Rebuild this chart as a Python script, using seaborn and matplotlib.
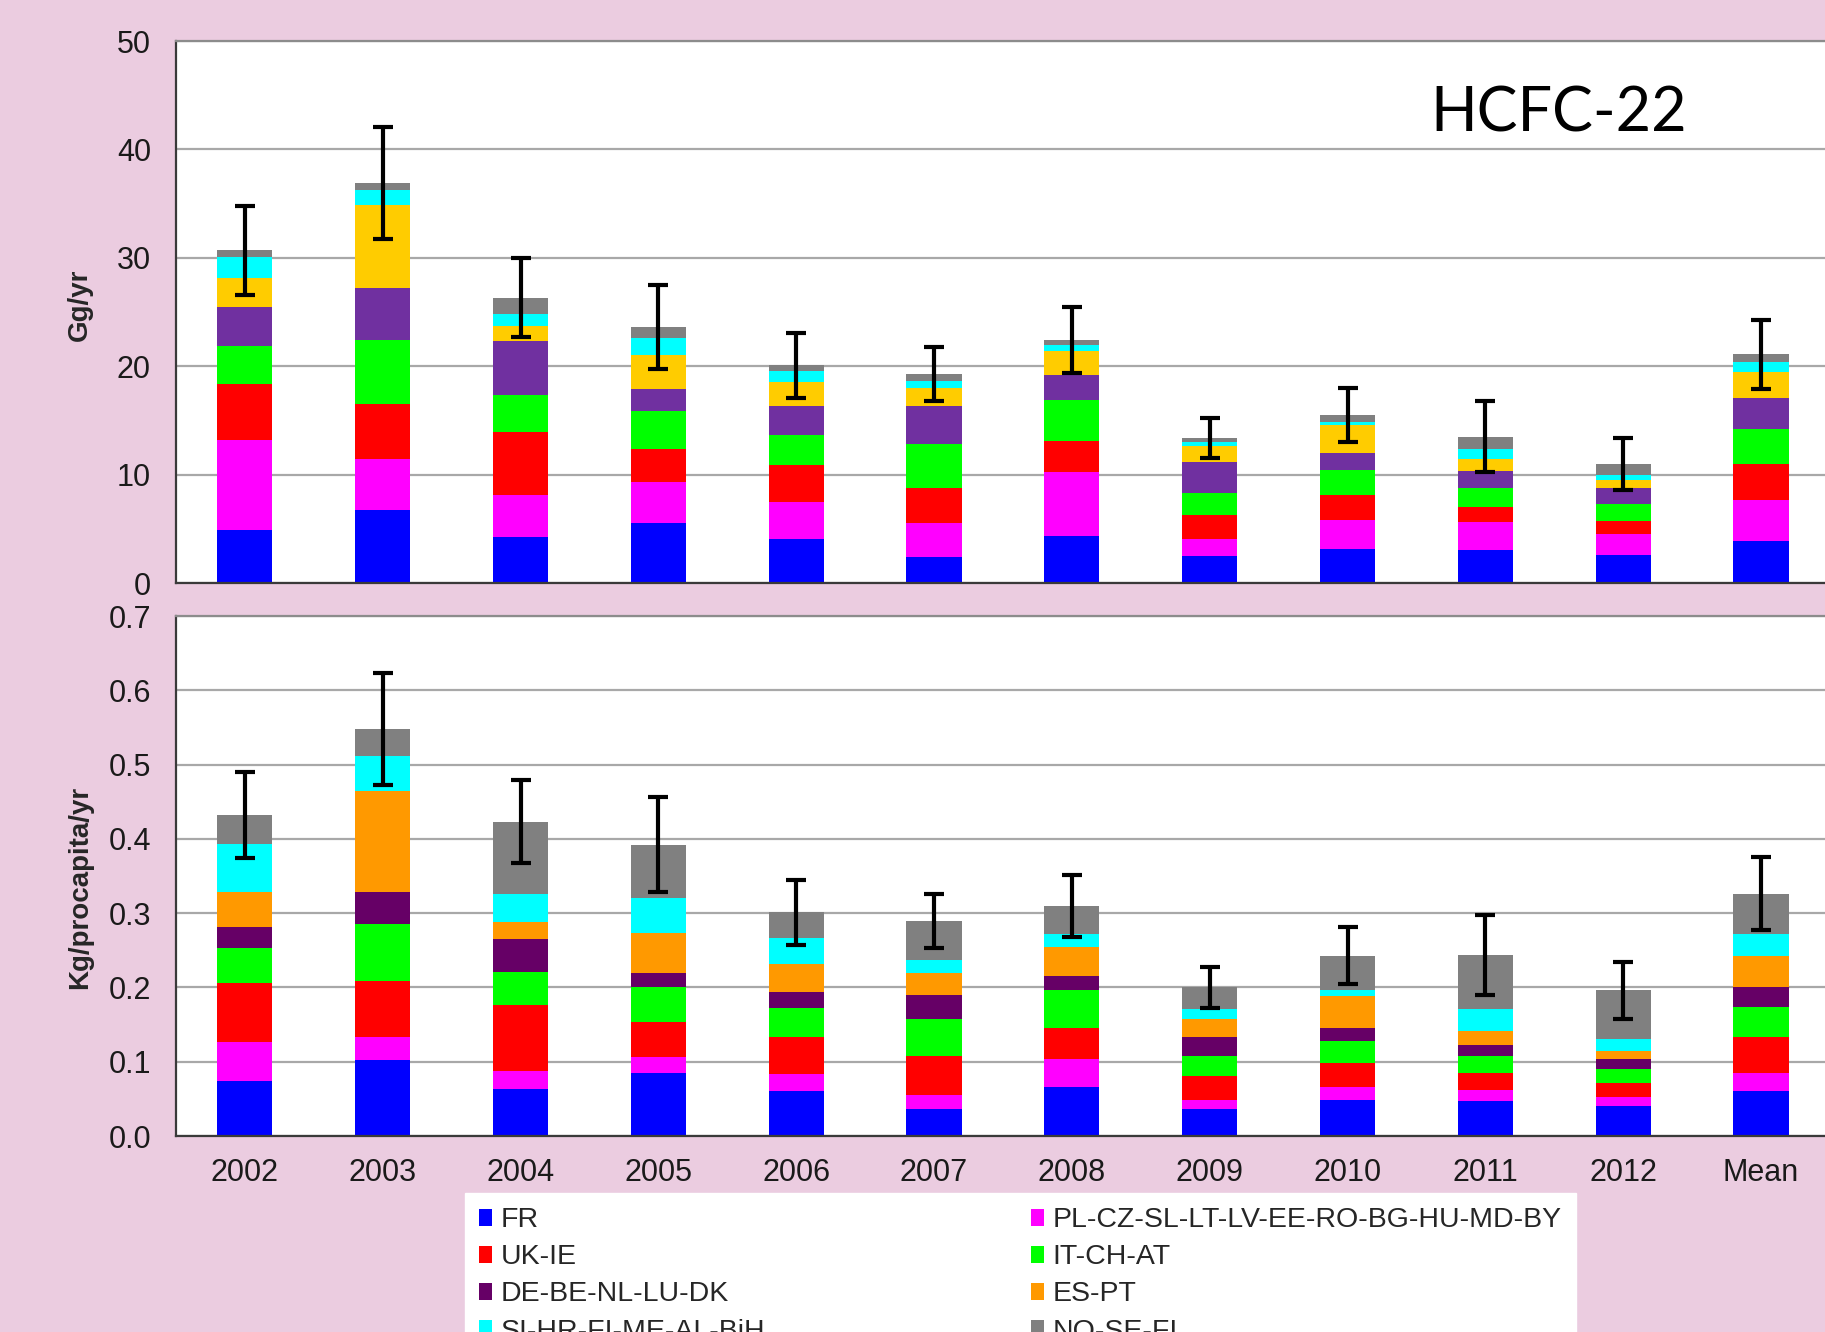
import numpy as np
import matplotlib
matplotlib.use("Agg")
import matplotlib.pyplot as plt
from matplotlib.patches import Patch
from matplotlib.ticker import FixedLocator
import seaborn as sns

sns.set_style("white")
plt.rcParams["font.family"] = ["Liberation Sans", "DejaVu Sans"]

# Categories on the x axis
periods = ["2002", "2003", "2004", "2005", "2006", "2007",
           "2008", "2009", "2010", "2011", "2012", "Mean"]

# Regions, in stacking order from the bottom of each bar upwards
regions = ["FR", "PL-CZ-SL-LT-LV-EE-RO-BG-HU-MD-BY", "UK-IE", "IT-CH-AT",
           "DE-BE-NL-LU-DK", "ES-PT", "SI-HR-FI-ME-AL-BiH", "NO-SE-FI"]

# HCFC-22 emissions, Gg/yr
gg_fr = [4.9, 6.7, 4.2, 5.5, 4.05, 2.4, 4.3, 2.5, 3.1, 3.0, 2.6, 3.9]
gg_pl = [8.3, 4.7, 3.9, 3.8, 3.45, 3.1, 5.9, 1.55, 2.7, 2.6, 1.9, 3.8]
gg_uk = [5.2, 5.15, 5.8, 3.1, 3.4, 3.3, 2.9, 2.25, 2.3, 1.4, 1.2, 3.25]
gg_it = [3.5, 5.85, 3.4, 3.5, 2.8, 4.0, 3.8, 2.05, 2.3, 1.8, 1.6, 3.25]
gg_de = [3.6, 4.8, 5.0, 2.0, 2.65, 3.55, 2.3, 2.85, 1.6, 1.5, 1.5, 2.9]
gg_es = [2.6, 7.7, 1.4, 3.1, 2.15, 1.65, 2.2, 1.4, 2.55, 1.1, 0.7, 2.4]
gg_si = [2.0, 1.4, 1.1, 1.6, 1.1, 0.6, 0.6, 0.4, 0.3, 1.0, 0.5, 0.9]
gg_no = [0.6, 0.6, 1.5, 1.0, 0.5, 0.7, 0.45, 0.4, 0.65, 1.1, 0.95, 0.7]
gg_err = [4.1, 5.2, 3.65, 3.9, 3.0, 2.5, 3.05, 1.85, 2.5, 3.25, 2.4, 3.2]

# HCFC-22 emissions per capita, Kg/procapita/yr
pc_fr = [0.074, 0.102, 0.064, 0.085, 0.060, 0.036, 0.066, 0.037, 0.048, 0.047, 0.040, 0.060]
pc_pl = [0.053, 0.031, 0.024, 0.022, 0.023, 0.019, 0.038, 0.011, 0.018, 0.015, 0.012, 0.025]
pc_uk = [0.079, 0.076, 0.088, 0.047, 0.051, 0.053, 0.042, 0.033, 0.033, 0.023, 0.019, 0.049]
pc_it = [0.047, 0.077, 0.045, 0.046, 0.039, 0.050, 0.050, 0.027, 0.029, 0.023, 0.019, 0.040]
pc_de = [0.029, 0.042, 0.044, 0.019, 0.021, 0.032, 0.020, 0.026, 0.017, 0.014, 0.014, 0.026]
pc_es = [0.047, 0.136, 0.023, 0.055, 0.038, 0.029, 0.039, 0.024, 0.043, 0.019, 0.010, 0.042]
pc_si = [0.064, 0.047, 0.038, 0.047, 0.034, 0.018, 0.017, 0.013, 0.009, 0.030, 0.017, 0.030]
pc_no = [0.039, 0.037, 0.097, 0.071, 0.035, 0.052, 0.038, 0.029, 0.046, 0.073, 0.065, 0.054]
pc_err = [0.058, 0.076, 0.056, 0.064, 0.0435, 0.0365, 0.042, 0.027, 0.0385, 0.054, 0.0385, 0.049]

colors_top = ["#0000FF", "#FF00FF", "#FF0000", "#00FF00",
              "#7030A0", "#FFCC00", "#00FFFF", "#808080"]
colors_bottom = ["#0000FF", "#FF00FF", "#FF0000", "#00FF00",
                 "#660066", "#FF9900", "#00FFFF", "#808080"]

BG = "#EBCCE0"
GRID = "#A8A8A8"
SPINE = "#3A3A3A"


def stacked_panel(ax, layers, colors, err, ymax, step):
    cum = np.cumsum(np.array(layers, dtype=float), axis=0)
    # draw the running totals from the tallest down so each layer shows its own slice
    for i in reversed(range(len(layers))):
        sns.barplot(x=periods, y=cum[i], order=periods, color=colors[i],
                    width=0.4, saturation=1, linewidth=0, errorbar=None,
                    ax=ax, zorder=2)
    ax.errorbar(np.arange(len(periods)), cum[-1], yerr=err, fmt="none",
                ecolor="black", elinewidth=3, capsize=7.5, capthick=3, zorder=4)
    ax.set_xlim(-0.5, len(periods) - 0.5)
    ax.set_ylim(0, ymax)
    ax.set_yticks(np.round(np.arange(0, ymax + step / 2, step), 3))
    ax.set_facecolor("white")
    ax.yaxis.grid(True, color=GRID, lw=1.6, zorder=0)
    ax.xaxis.grid(False)
    ax.set_axisbelow(True)
    for side in ["left", "bottom"]:
        ax.spines[side].set_color(SPINE)
        ax.spines[side].set_linewidth(1.6)
    ax.spines["top"].set_color("#8C8C8C")
    ax.spines["top"].set_linewidth(1.6)
    ax.spines["right"].set_visible(False)
    ax.xaxis.set_minor_locator(FixedLocator(np.arange(0.5, len(periods) - 0.5, 1.0)))
    ax.tick_params(axis="x", which="major", length=0, labelsize=22, pad=15.5,
                   colors="#1A1A1A")
    ax.tick_params(axis="x", which="minor", length=8, width=1.3, direction="in",
                   color=SPINE)
    ax.tick_params(axis="y", which="major", length=4, width=1.2, direction="in",
                   labelsize=22, pad=18, colors="#1A1A1A")
    ax.set_xlabel("")


fig = plt.figure(figsize=(18.25, 13.32), dpi=100, facecolor=BG)
ax_top = fig.add_axes([0.0964, 0.5623, 0.9063, 0.4069])
ax_bot = fig.add_axes([0.0964, 0.1471, 0.9063, 0.3904])

stacked_panel(ax_top, [gg_fr, gg_pl, gg_uk, gg_it, gg_de, gg_es, gg_si, gg_no],
              colors_top, gg_err, 50, 10)
stacked_panel(ax_bot, [pc_fr, pc_pl, pc_uk, pc_it, pc_de, pc_es, pc_si, pc_no],
              colors_bottom, pc_err, 0.7, 0.1)

ax_top.tick_params(axis="x", labelbottom=False)
ax_bot.set_yticklabels([f"{v:.1f}" for v in ax_bot.get_yticks()])

ax_top.set_ylabel("Gg/yr", fontsize=20, fontweight="bold")
ax_bot.set_ylabel("Kg/procapita/yr", fontsize=20, fontweight="bold")
ax_top.yaxis.set_label_coords(-0.050, 0.513)
ax_bot.yaxis.set_label_coords(-0.050, 0.478)

fig.text(1430 / 1825, 1 - 131 / 1332, "HCFC-22",
         fontsize=44, family=["Lato", "DejaVu Sans"], ha="left",
         va="baseline", color="black")

# Legend in two columns, filled column by column
legend_order = [0, 2, 4, 6, 1, 3, 5, 7]
handles = [Patch(facecolor=colors_bottom[i], edgecolor="none") for i in legend_order]
labels = [regions[i] for i in legend_order]
leg = fig.legend(handles, labels, loc="upper left",
                 bbox_to_anchor=(465 / 1825, 1 - 1193 / 1332), ncol=2,
                 fontsize=20.5, frameon=True, fancybox=False, facecolor="white",
                 edgecolor="white", framealpha=1, handlelength=0.45,
                 handleheight=0.55, handletextpad=0.3, columnspacing=9.35,
                 labelspacing=0.39, borderpad=0.5, borderaxespad=0)

fig.savefig("out.png", dpi=100, facecolor=BG)
